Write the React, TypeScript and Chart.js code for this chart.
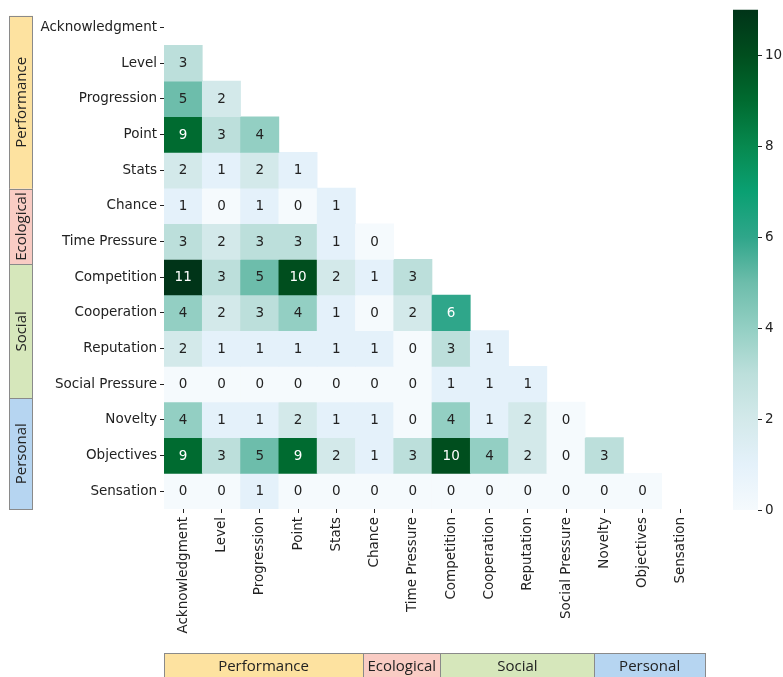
import React, { useEffect, useRef } from 'react';
import { Chart, registerables } from 'chart.js';

Chart.register(...registerables);

// ---- data ----
const categories = [
  'Acknowledgment', 'Level', 'Progression', 'Point', 'Stats', 'Chance', 'Time Pressure',
  'Competition', 'Cooperation', 'Reputation', 'Social Pressure', 'Novelty', 'Objectives', 'Sensation',
];

const rowAcknowledgment: number[] = [];
const rowLevel = [3];
const rowProgression = [5, 2];
const rowPoint = [9, 3, 4];
const rowStats = [2, 1, 2, 1];
const rowChance = [1, 0, 1, 0, 1];
const rowTimePressure = [3, 2, 3, 3, 1, 0];
const rowCompetition = [11, 3, 5, 10, 2, 1, 3];
const rowCooperation = [4, 2, 3, 4, 1, 0, 2, 6];
const rowReputation = [2, 1, 1, 1, 1, 1, 0, 3, 1];
const rowSocialPressure = [0, 0, 0, 0, 0, 0, 0, 1, 1, 1];
const rowNovelty = [4, 1, 1, 2, 1, 1, 0, 4, 1, 2, 0];
const rowObjectives = [9, 3, 5, 9, 2, 1, 3, 10, 4, 2, 0, 3];
const rowSensation = [0, 0, 1, 0, 0, 0, 0, 0, 0, 0, 0, 0, 0];

const matrixRows = [
  rowAcknowledgment, rowLevel, rowProgression, rowPoint, rowStats, rowChance, rowTimePressure,
  rowCompetition, rowCooperation, rowReputation, rowSocialPressure, rowNovelty, rowObjectives, rowSensation,
];

const groupNames = ['Performance', 'Ecological', 'Social', 'Personal'];
const groupColors = ['#fde2a0', '#f9ccc4', '#d6e7bb', '#b6d5f1'];
// group boundaries, in axis units (category index)
const leftGroupEdges = [-0.33, 4.52, 6.64, 10.4, 13.5];
const bottomGroupEdges = [-0.5, 4.7, 6.72, 10.74, 13.63];

const colorbarTicks = [0, 2, 4, 6, 8, 10];
const colorMin = 0;
const colorMax = 11;

// colormap stops (value -> colour)
const cmapValues = [0, 1, 2, 3, 4, 5, 6, 7, 8, 9, 10, 11];
const cmapColors = [
  '#f5fafd', '#e4f1fa', '#d3e9ea', '#bcdfdb', '#93cfc3', '#6dbdab',
  '#2fa68a', '#0aa072', '#07894f', '#006b30', '#004e1e', '#003418',
];

const FONT = '"DejaVu Sans", sans-serif';
const GROUP_FONT = '"Open Sans", "Noto Sans", sans-serif';
const TEXT = '#222222';

function hexToRgb(h: string) {
  const n = parseInt(h.slice(1), 16);
  return [(n >> 16) & 255, (n >> 8) & 255, n & 255];
}

function colorFor(v: number) {
  const t = Math.max(colorMin, Math.min(colorMax, v));
  let i = 0;
  while (i < cmapValues.length - 2 && t > cmapValues[i + 1]) i++;
  const f = (t - cmapValues[i]) / (cmapValues[i + 1] - cmapValues[i]);
  const a = hexToRgb(cmapColors[i]);
  const b = hexToRgb(cmapColors[i + 1]);
  const c = a.map((x, k) => Math.round(x + (b[k] - x) * f));
  return `rgb(${c[0]},${c[1]},${c[2]})`;
}

const cellLabelPlugin = {
  id: 'cellLabels',
  afterDatasetsDraw(chart: any) {
    const ctx = chart.ctx;
    ctx.save();
    ctx.font = `13.5px ${FONT}`;
    ctx.textAlign = 'center';
    ctx.textBaseline = 'middle';
    chart.data.datasets.forEach((ds: any, di: number) => {
      const meta = chart.getDatasetMeta(di);
      const values: number[] = ds.cellValues;
      meta.data.forEach((el: any, j: number) => {
        if (j >= values.length) return;
        const v = values[j];
        const cy = (el.y + el.base) / 2;
        ctx.fillStyle = v >= 6 ? '#ffffff' : TEXT;
        ctx.fillText(String(v), el.x, cy + 0.5);
      });
    });
    ctx.restore();
  },
};

const annotationPlugin = {
  id: 'annotations',
  afterDraw(chart: any) {
    const ctx = chart.ctx;
    const xs = chart.scales.x;
    const ys = chart.scales.y;
    const area = chart.chartArea;
    ctx.save();

    // left group bars
    const lx0 = 9;
    const lx1 = 33;
    for (let g = 0; g < groupNames.length; g++) {
      const y0 = ys.getPixelForValue(leftGroupEdges[g]);
      const y1 = ys.getPixelForValue(leftGroupEdges[g + 1]);
      ctx.fillStyle = groupColors[g];
      ctx.fillRect(lx0, y0, lx1 - lx0, y1 - y0);
      ctx.strokeStyle = '#8a8a8a';
      ctx.lineWidth = 1;
      ctx.strokeRect(lx0 + 0.5, Math.round(y0) + 0.5, lx1 - lx0 - 1, Math.round(y1 - y0));
      ctx.save();
      ctx.translate((lx0 + lx1) / 2 + 1, (y0 + y1) / 2);
      ctx.rotate(-Math.PI / 2);
      ctx.fillStyle = TEXT;
      ctx.font = `15px ${GROUP_FONT}`;
      ctx.textAlign = 'center';
      ctx.textBaseline = 'middle';
      ctx.fillText(groupNames[g], 0, 0);
      ctx.restore();
    }

    // bottom group bars
    const by0 = 653;
    const by1 = 678;
    for (let g = 0; g < groupNames.length; g++) {
      const x0 = xs.getPixelForValue(bottomGroupEdges[g]);
      const x1 = xs.getPixelForValue(bottomGroupEdges[g + 1]);
      ctx.fillStyle = groupColors[g];
      ctx.fillRect(x0, by0, x1 - x0, by1 - by0);
      ctx.strokeStyle = '#8a8a8a';
      ctx.lineWidth = 1;
      ctx.strokeRect(Math.round(x0) + 0.5, by0 + 0.5, Math.round(x1 - x0), by1 - by0);
      ctx.fillStyle = TEXT;
      ctx.font = `15px ${GROUP_FONT}`;
      ctx.textAlign = 'center';
      ctx.textBaseline = 'middle';
      ctx.fillText(groupNames[g], (x0 + x1) / 2, (by0 + by1) / 2 + 1);
    }

    // colorbar
    const cx0 = 733;
    const cx1 = 758;
    const cTop = area.top;
    const cBot = area.bottom + 1;
    const valToY = (v: number) => cBot - ((v - colorMin) / (colorMax - colorMin)) * (cBot - cTop);
    const grad = ctx.createLinearGradient(0, cBot, 0, cTop);
    cmapValues.forEach((v, i) => {
      grad.addColorStop((v - colorMin) / (colorMax - colorMin), cmapColors[i]);
    });
    ctx.fillStyle = grad;
    ctx.fillRect(cx0, cTop, cx1 - cx0, cBot - cTop);
    ctx.strokeStyle = TEXT;
    ctx.lineWidth = 1;
    ctx.font = `13.5px ${FONT}`;
    ctx.textAlign = 'left';
    ctx.textBaseline = 'middle';
    colorbarTicks.forEach((t) => {
      const y = Math.round(valToY(t)) + 0.5;
      ctx.beginPath();
      ctx.moveTo(cx1, y);
      ctx.lineTo(cx1 + 4, y);
      ctx.stroke();
      ctx.fillStyle = TEXT;
      ctx.fillText(String(t), cx1 + 7, y);
    });

    ctx.restore();
  },
};

export default function App() {
  const canvasRef = useRef<HTMLCanvasElement | null>(null);

  useEffect(() => {
    if (!canvasRef.current) return;
    const datasets = matrixRows
      .map((vals, i) => ({ vals, i }))
      .filter((r) => r.vals.length > 0)
      .map(({ vals, i }) => ({
        label: categories[i],
        data: categories.map((_, j) => (j < vals.length ? [i - 0.5, i + 0.5] : null)),
        cellValues: vals,
        backgroundColor: categories.map((_, j) => (j < vals.length ? colorFor(vals[j]) : 'rgba(0,0,0,0)')),
        borderWidth: 0,
        barPercentage: 1,
        categoryPercentage: 1,
        grouped: false,
      }));

    const chart = new Chart(canvasRef.current, {
      type: 'bar',
      data: { labels: categories, datasets: datasets as any },
      options: {
        animation: false,
        responsive: false,
        maintainAspectRatio: false,
        layout: { padding: { top: 7, right: 83, left: 0, bottom: 0 } },
        plugins: { legend: { display: false }, tooltip: { enabled: false } },
        scales: {
          x: {
            type: 'category',
            offset: true,
            grid: { display: true, drawOnChartArea: false, drawTicks: true, tickLength: 4, offset: false, color: TEXT, lineWidth: 1 },
            border: { display: false },
            ticks: {
              autoSkip: false,
              maxRotation: 90,
              minRotation: 90,
              padding: 4,
              color: TEXT,
              font: { family: FONT, size: 13.5, lineHeight: 1 },
            },
            afterFit: (scale: any) => { scale.height = 168; },
          },
          y: {
            type: 'linear',
            reverse: true,
            min: -0.5,
            max: 13.5,
            grid: { display: true, drawOnChartArea: false, drawTicks: true, tickLength: 4, color: TEXT, lineWidth: 1 },
            border: { display: false },
            afterBuildTicks: (scale: any) => {
              scale.ticks = categories.map((_, i) => ({ value: i }));
            },
            ticks: {
              autoSkip: false,
              padding: 3,
              color: TEXT,
              font: { family: FONT, size: 13.5, lineHeight: 1 },
              callback: (v: any) => categories[Number(v)] ?? '',
            },
            afterFit: (scale: any) => { scale.width = 164; },
          },
        },
      },
      plugins: [cellLabelPlugin, annotationPlugin],
    });
    return () => chart.destroy();
  }, []);

  return (
    <div style={{ position: 'fixed', left: 0, top: 0, width: 783, height: 677, background: '#fff' }}>
      <canvas ref={canvasRef} width={783} height={677} style={{ width: 783, height: 677, display: 'block' }} />
    </div>
  );
}
